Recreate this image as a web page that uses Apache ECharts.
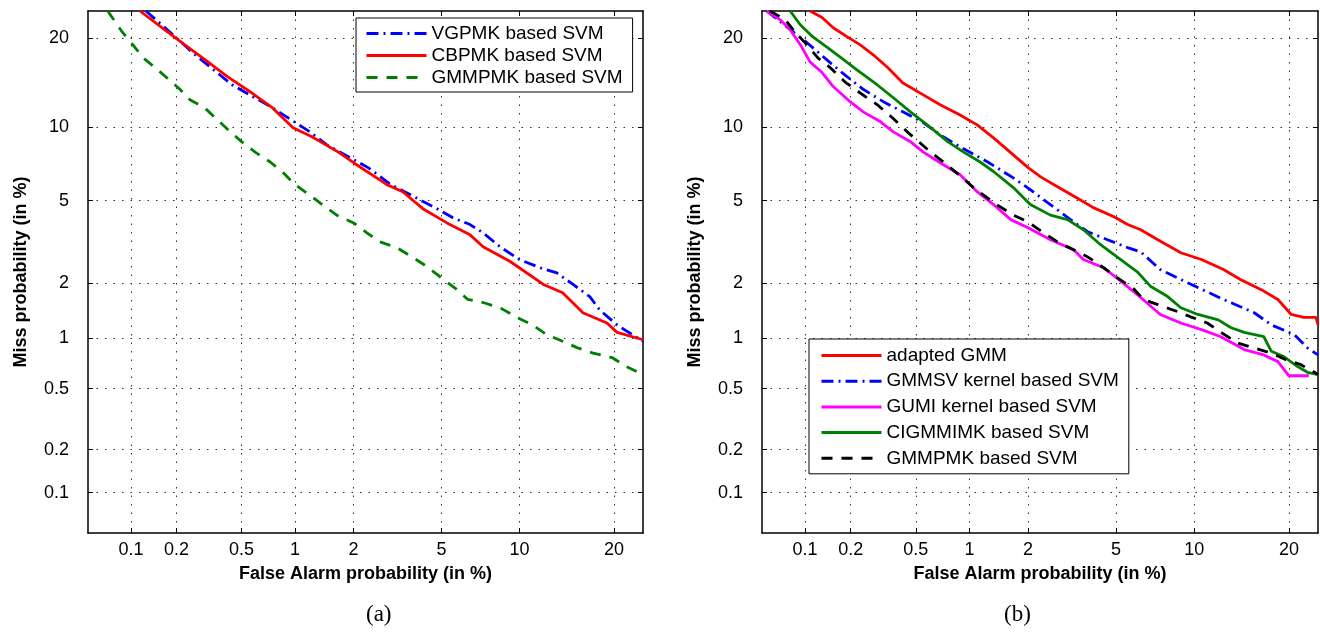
<!DOCTYPE html>
<html>
<head>
<meta charset="utf-8">
<script src="https://cdn.jsdelivr.net/npm/echarts@6/dist/echarts.min.js"></script>
<style>
  html, body { margin: 0; padding: 0; background: #fff; }
  #chart { width: 1320px; height: 632px; }
</style>
</head>
<body>
<div id="chart"></div>
<script>
// axis ticks (percent) and their labels
var tickPct = [0.1, 0.2, 0.5, 1, 2, 5, 10, 20];
var tickLabels = ['0.1', '0.2', '0.5', '1', '2', '5', '10', '20'];
var axisMinPct = 0.05;
var axisMaxPct = 24;

// (a) false alarm / miss probabilities, in %
var vgpmkFa   = [0.126, 0.161, 0.262, 0.44, 0.75, 1.2, 1.47, 2.35, 3.0, 4.05, 4.7, 5.58, 6.53, 7.34, 8.5, 10.0, 11.8, 13.4, 15.1, 17.0, 18.2, 20.4, 24];
var vgpmkMiss = [24, 21.9, 17.8, 14.2, 11.8, 9.6, 8.55, 6.92, 5.87, 5.04, 4.65, 4.18, 3.89, 3.56, 3.05, 2.64, 2.4, 2.26, 1.97, 1.70, 1.44, 1.19, 0.96];

var cbpmkFa   = [0.115, 0.168, 0.226, 0.30, 0.415, 0.575, 0.75, 0.975, 1.23, 1.68, 2.0, 2.88, 3.4, 4.17, 5.27, 6.53, 7.34, 9.26, 12.1, 14.0, 16.2, 19.1, 20.4, 24];
var cbpmkMiss = [24, 21.2, 19.1, 17.2, 15.1, 13.3, 11.8, 9.96, 9.2, 8.0, 7.25, 5.87, 5.47, 4.6, 3.96, 3.48, 3.05, 2.58, 1.97, 1.78, 1.39, 1.22, 1.08, 0.98];

var gmmpmkAFa   = [0.069, 0.087, 0.103, 0.121, 0.145, 0.173, 0.21, 0.243, 0.30, 0.357, 0.415, 0.5, 0.6, 0.73, 0.86, 1.0, 1.23, 1.39, 1.65, 2.0, 2.32, 2.67, 3.2, 3.74, 4.35, 5.1, 5.8, 6.4, 7.34, 8.5, 9.8, 11.1, 12.4, 14.0, 15.6, 17.4, 19.8, 21.7, 23.3, 24];
var gmmpmkAMiss = [24, 20.9, 19.1, 17.4, 16.2, 15.0, 13.7, 12.6, 11.8, 10.7, 9.8, 8.8, 8.0, 7.3, 6.6, 5.87, 5.2, 4.8, 4.3, 3.96, 3.56, 3.22, 3.02, 2.72, 2.43, 2.09, 1.85, 1.64, 1.58, 1.48, 1.31, 1.19, 1.05, 0.96, 0.88, 0.82, 0.77, 0.68, 0.63, 0.59];

// (b)
var adaptedFa   = [0.108, 0.13, 0.154, 0.19, 0.23, 0.277, 0.34, 0.42, 0.553, 0.69, 0.89, 1.1, 1.34, 1.69, 2.0, 2.3, 2.76, 3.5, 4.0, 4.9, 5.58, 6.3, 7.34, 8.95, 10.6, 12.6, 14.3, 16.6, 18.6, 20.3, 22.0, 23.7, 24];
var adaptedMiss = [24, 23, 21.5, 20.2, 19.1, 17.8, 16.2, 14.4, 13.1, 12.1, 11.1, 10.2, 9.1, 7.8, 6.92, 6.33, 5.75, 5.04, 4.65, 4.23, 3.89, 3.68, 3.3, 2.85, 2.64, 2.35, 2.09, 1.85, 1.64, 1.36, 1.31, 1.31, 1.19];

var gmmsvFa   = [0.054, 0.083, 0.103, 0.147, 0.184, 0.24, 0.32, 0.42, 0.553, 0.69, 0.89, 1.25, 1.69, 2.05, 2.48, 3.17, 3.78, 4.6, 5.58, 6.3, 7.5, 8.95, 11.1, 12.6, 14.3, 15.8, 17.8, 20.7, 22.5, 24];
var gmmsvMiss = [24, 20.9, 19.4, 16.8, 15.3, 13.7, 12.4, 11.4, 10.4, 9.35, 8.4, 7.3, 6.27, 5.58, 4.9, 4.1, 3.6, 3.3, 3.02, 2.88, 2.35, 2.09, 1.8, 1.64, 1.5, 1.39, 1.19, 1.05, 0.88, 0.8];

var gumiFa   = [0.054, 0.067, 0.079, 0.093, 0.108, 0.13, 0.154, 0.198, 0.24, 0.306, 0.368, 0.465, 0.553, 0.69, 0.89, 1.1, 1.34, 1.64, 2.0, 2.56, 3.27, 3.62, 4.43, 5.2, 6.3, 7.5, 8.95, 10.6, 12.35, 14.7, 16.9, 18.6, 20.0, 22.7];
var gumiMiss = [24, 22.7, 21.2, 19.1, 16.9, 15.6, 14.0, 12.4, 11.4, 10.5, 9.6, 8.8, 8.0, 7.25, 6.46, 5.47, 4.8, 4.1, 3.76, 3.3, 2.95, 2.64, 2.4, 2.06, 1.68, 1.36, 1.22, 1.12, 1.02, 0.86, 0.8, 0.73, 0.6, 0.6];

var cigmmFa   = [0.079, 0.093, 0.113, 0.14, 0.179, 0.22, 0.293, 0.368, 0.465, 0.61, 0.76, 0.93, 1.14, 1.34, 1.69, 2.05, 2.56, 3.07, 3.62, 4.3, 4.9, 6.1, 6.9, 8.0, 8.95, 10.3, 12.1, 13.3, 14.7, 16.9, 17.8, 19.4, 21.2, 22.5, 24];
var cigmmMiss = [24, 21.9, 20.2, 18.8, 17.2, 15.9, 14.2, 12.8, 11.4, 9.96, 8.8, 8.0, 7.3, 6.67, 5.7, 4.8, 4.3, 4.1, 3.68, 3.12, 2.79, 2.29, 1.92, 1.7, 1.48, 1.36, 1.27, 1.15, 1.08, 1.02, 0.84, 0.78, 0.68, 0.63, 0.61];

var gmmpmkBFa   = [0.057, 0.073, 0.083, 0.103, 0.122, 0.147, 0.184, 0.23, 0.293, 0.363, 0.446, 0.61, 0.72, 0.89, 1.05, 1.34, 1.69, 2.0, 2.37, 2.76, 3.27, 3.78, 4.43, 5.07, 5.9, 6.46, 7.34, 8.7, 9.7, 11.1, 12.35, 14.0, 15.4, 17.8, 19.6, 21.6, 23.5, 24];
var gmmpmkBMiss = [24, 22.7, 21.2, 19.1, 17.4, 16.2, 14.5, 13.3, 12.1, 10.85, 9.6, 8.0, 7.3, 6.4, 5.7, 4.9, 4.3, 4.0, 3.56, 3.22, 2.95, 2.72, 2.4, 2.13, 1.87, 1.64, 1.54, 1.41, 1.32, 1.22, 1.08, 0.94, 0.89, 0.82, 0.75, 0.7, 0.63, 0.61];

// inverse normal CDF (Acklam) -> DET axes are in normal deviate units
function probit(p) {
    var a = [-3.969683028665376e+01, 2.209460984245205e+02, -2.759285104469687e+02, 1.383577518672690e+02, -3.066479806614716e+01, 2.506628277459239e+00];
    var b = [-5.447609879822406e+01, 1.615858368580409e+02, -1.556989798598866e+02, 6.680131188771972e+01, -1.328068155288572e+01];
    var c = [-7.784894002430293e-03, -3.223964580411365e-01, -2.400758277161838e+00, -2.549732539343734e+00, 4.374664141464968e+00, 2.938163982698783e+00];
    var d = [7.784695709041462e-03, 3.224671290700398e-01, 2.445134137142996e+00, 3.754408661907416e+00];
    var plow = 0.02425, q, r;
    if (p < plow) {
        q = Math.sqrt(-2 * Math.log(p));
        return (((((c[0] * q + c[1]) * q + c[2]) * q + c[3]) * q + c[4]) * q + c[5]) / ((((d[0] * q + d[1]) * q + d[2]) * q + d[3]) * q + 1);
    }
    if (p <= 1 - plow) {
        q = p - 0.5; r = q * q;
        return (((((a[0] * r + a[1]) * r + a[2]) * r + a[3]) * r + a[4]) * r + a[5]) * q / (((((b[0] * r + b[1]) * r + b[2]) * r + b[3]) * r + b[4]) * r + 1);
    }
    q = Math.sqrt(-2 * Math.log(1 - p));
    return -(((((c[0] * q + c[1]) * q + c[2]) * q + c[3]) * q + c[4]) * q + c[5]) / ((((d[0] * q + d[1]) * q + d[2]) * q + d[3]) * q + 1);
}
function pct(v) { return probit(v / 100); }

var tickVals = tickPct.map(pct);
var pMin = pct(axisMinPct), pMax = pct(axisMaxPct);
var FONT = '"Liberation Sans", Arial, Helvetica, sans-serif';

function tickFormatter(val) {
    for (var i = 0; i < tickVals.length; i++) {
        if (Math.abs(tickVals[i] - val) < 1e-6) return tickLabels[i];
    }
    return '';
}

function makeAxis(gridIndex, position, withLabels, name, nameGap) {
    var axis = {
        type: 'value',
        gridIndex: gridIndex,
        position: position,
        min: pMin,
        max: pMax,
        axisLine: { onZero: false, lineStyle: { color: '#000', width: 1.5 } },
        axisTick: { inside: true, length: 5, customValues: tickVals, lineStyle: { color: '#000', width: 1 } },
        axisLabel: { show: false },
        splitLine: { show: false }
    };
    if (withLabels) {
        axis.axisLabel = {
            show: true,
            customValues: tickVals,
            formatter: tickFormatter,
            margin: (position === 'bottom') ? 8 : 19,
            fontSize: 18,
            fontFamily: FONT,
            color: '#000'
        };
        axis.splitLine = { show: true, lineStyle: { color: '#333', width: 1, type: [1.5, 7] } };
        axis.name = name;
        axis.nameLocation = 'middle';
        axis.nameGap = nameGap;
        axis.nameTextStyle = { fontSize: 18, fontWeight: 'bold', fontFamily: FONT, color: '#000' };
    }
    return axis;
}

function detSeries(name, fa, miss, gridIndex, color, type) {
    return {
        name: name,
        type: 'line',
        xAxisIndex: gridIndex * 2,
        yAxisIndex: gridIndex * 2,
        symbol: 'none',
        showSymbol: false,
        color: color,
        lineStyle: { color: color, width: 2.8, type: type },
        data: fa.map(function (v, i) { return [pct(v), pct(miss[i])]; })
    };
}

var dashDot = [12, 5, 2, 5];
var dashed = [11, 9];

var legendCommon = {
    orient: 'vertical',
    itemWidth: 60,
    itemHeight: 14,
    borderColor: '#000',
    borderWidth: 1,
    backgroundColor: '#fff',
    itemStyle: { opacity: 0, borderWidth: 0 },
    lineStyle: { width: 3 },
    textStyle: { fontSize: 19, lineHeight: 19, fontFamily: FONT, color: '#000' }
};

var chart = echarts.init(document.getElementById('chart'));
var options = {
    animation: false,
    backgroundColor: '#fff',
    grid: [
        { left: 88, top: 11, width: 555, height: 522 },
        { left: 762, top: 11, width: 556, height: 522 }
    ],
    xAxis: [
        makeAxis(0, 'bottom', true, 'False Alarm probability (in %)', 32),
        makeAxis(0, 'top', false),
        makeAxis(1, 'bottom', true, 'False Alarm probability (in %)', 32),
        makeAxis(1, 'top', false)
    ],
    yAxis: [
        makeAxis(0, 'left', true, 'Miss probability (in %)', 58),
        makeAxis(0, 'right', false),
        makeAxis(1, 'left', true, 'Miss probability (in %)', 58),
        makeAxis(1, 'right', false)
    ],
    legend: [
        echarts.util.merge({
            left: 356,
            top: 18,
            padding: [6, 10, 5, 9],
            itemGap: 3,
            data: ['VGPMK based SVM', 'CBPMK based SVM', 'GMMPMK based SVM']
        }, legendCommon),
        echarts.util.merge({
            left: 809,
            top: 339,
            padding: [7, 10, 6, 11],
            itemGap: 6.7,
            data: [
                'adapted GMM',
                'GMMSV kernel based SVM',
                'GUMI kernel based SVM',
                'CIGMMIMK based SVM',
                { name: 'GMMPMK based SVM', lineStyle: { color: '#000', type: dashed } }
            ]
        }, legendCommon)
    ],
    graphic: [
        { type: 'text', left: 366, top: 603, style: { text: '(a)', font: '23px "Liberation Serif", "Times New Roman", serif', fill: '#000' } },
        { type: 'text', left: 1004, top: 603, style: { text: '(b)', font: '23px "Liberation Serif", "Times New Roman", serif', fill: '#000' } }
    ],
    series: [
        detSeries('VGPMK based SVM', vgpmkFa, vgpmkMiss, 0, '#0000ff', dashDot),
        detSeries('CBPMK based SVM', cbpmkFa, cbpmkMiss, 0, '#ff0000', 'solid'),
        detSeries('GMMPMK based SVM', gmmpmkAFa, gmmpmkAMiss, 0, '#008000', dashed),
        detSeries('adapted GMM', adaptedFa, adaptedMiss, 1, '#ff0000', 'solid'),
        detSeries('GMMSV kernel based SVM', gmmsvFa, gmmsvMiss, 1, '#0000ff', dashDot),
        detSeries('GUMI kernel based SVM', gumiFa, gumiMiss, 1, '#ff00ff', 'solid'),
        detSeries('CIGMMIMK based SVM', cigmmFa, cigmmMiss, 1, '#008000', 'solid'),
        detSeries('GMMPMK based SVM', gmmpmkBFa, gmmpmkBMiss, 1, '#000000', dashed)
    ]
};
chart.setOption(options);
window.onresize = function () {
    chart.resize();
};
</script>
</body>
</html>
